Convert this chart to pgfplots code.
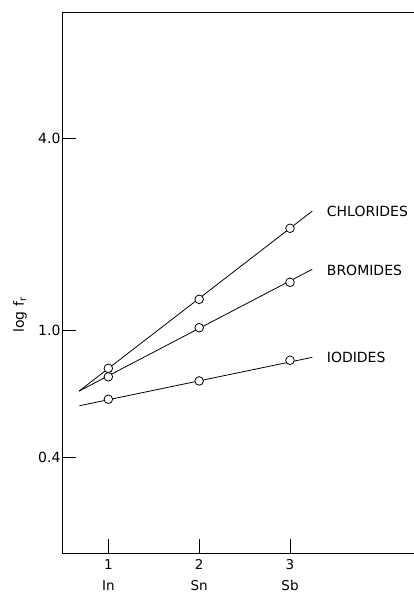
\documentclass[border=0pt]{standalone}
\usepackage{pgfplots}
\pgfplotsset{compat=1.18}
\usepackage{fontspec}
\setmainfont{DejaVu Sans}
\begin{document}
\begin{tikzpicture}[x=1pt,y=1pt]
\begin{axis}[
  at={(62pt,41pt)}, anchor=south west,
  scale only axis, width=352pt, height=541pt,
  xmin=0.490, xmax=4.365,
  ymode=log, ymin=0.2, ymax=10,
  axis line style={draw=none},
  tick pos=left, tick align=inside,
  major tick length=14pt,
  every tick/.style={black, line width=0.8pt},
  xtick={1,2,3},
  xticklabels={1\\In,2\\Sn,3\\Sb},
  xticklabel style={align=center, font=\fontsize{13.5}{21}\selectfont, yshift=-3pt},
  ytick={0.4,1,4},
  yticklabels={0.4,1.0,4.0},
  minor ytick={},
  yticklabel style={font=\fontsize{14}{16}\selectfont, xshift=2pt},
  /pgf/number format/assume math mode=true,
  clip=false,
]
\draw[black, line width=0.9pt] (rel axis cs:0,1) -- (rel axis cs:0,0) -- (rel axis cs:0.999,0);
\draw[black, line width=0.9pt] (rel axis cs:0,1) -- (rel axis cs:0.999,1);
% fitted lines
\addplot[black, line width=0.8pt, no marks] coordinates {(0.678,0.645) (3.245,2.37)};
\addplot[black, line width=0.8pt, no marks] coordinates {(0.678,0.645) (3.245,1.556)};
\addplot[black, line width=0.8pt, no marks] coordinates {(0.681,0.580) (3.245,0.823)};
% data points
\addplot[only marks, mark=*, mark size=4.3pt, mark options={fill=white, draw=black, line width=0.8pt}]
  coordinates {(1,0.760) (2,1.252) (3,2.093)};
\addplot[only marks, mark=*, mark size=4.3pt, mark options={fill=white, draw=black, line width=0.8pt}]
  coordinates {(1,0.715) (2,1.020) (3,1.416)};
\addplot[only marks, mark=*, mark size=4.3pt, mark options={fill=white, draw=black, line width=0.8pt}]
  coordinates {(1,0.608) (2,0.694) (3,0.806)};
\node[anchor=west, inner sep=0pt, font=\fontsize{14}{16}\selectfont] at (axis cs:3.404,2.37) {CHLORIDES};
\node[anchor=west, inner sep=0pt, font=\fontsize{14}{16}\selectfont] at (axis cs:3.404,1.548) {BROMIDES};
\node[anchor=west, inner sep=0pt, font=\fontsize{14}{16}\selectfont] at (axis cs:3.404,0.823) {IODIDES};
\end{axis}
\node[rotate=90, font=\fontsize{14}{16}\selectfont] at (20,279) {log f$_{\mathrm{r}}$};
\pgfresetboundingbox
\useasboundingbox (0,0) rectangle (414,594);
\end{tikzpicture}
\end{document}
